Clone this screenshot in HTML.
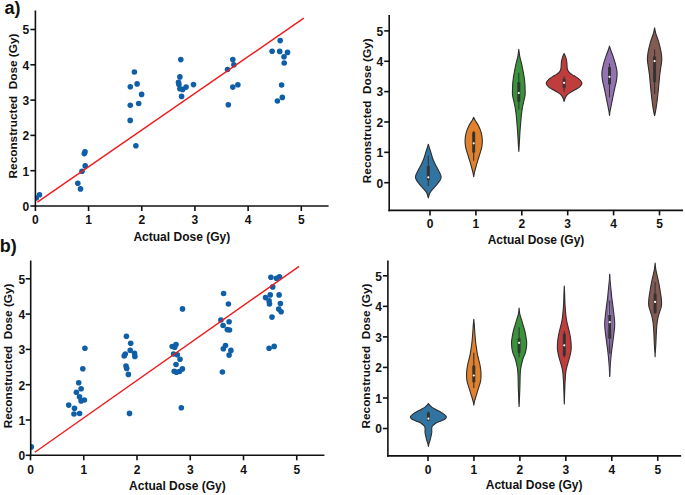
<!DOCTYPE html><html><head><meta charset="utf-8"><style>html,body{margin:0;padding:0;background:#fff;}svg{display:block;}.t{font-family:"Liberation Sans", sans-serif;font-weight:bold;font-size:12px;fill:#111;}.l{font-family:"Liberation Sans", sans-serif;font-weight:bold;font-size:12px;fill:#111;}.p{font-family:"Liberation Sans", sans-serif;font-size:18px;fill:#111;}</style></head><body>
<svg width="685" height="495" viewBox="0 0 685 495">
<rect width="685" height="495" fill="#fff"/>
<defs><clipPath id="ca"><rect x="35.6" y="0" width="300" height="206"/></clipPath><clipPath id="cb"><rect x="30.9" y="250" width="300" height="205"/></clipPath></defs>
<text x="4.6" y="13.6" class="p" style="font-weight:bold" transform="scale(1,1)">a)</text>
<text x="-0.2" y="252.4" class="p" style="font-weight:bold">b)</text>
<g clip-path="url(#ca)">
<circle cx="36.3" cy="198" r="2.8" fill="#0f5fa8"/>
<circle cx="39.5" cy="194.8" r="2.8" fill="#0f5fa8"/>
<circle cx="77.8" cy="183.2" r="2.8" fill="#0f5fa8"/>
<circle cx="80.5" cy="188.9" r="2.8" fill="#0f5fa8"/>
<circle cx="82" cy="171.2" r="2.8" fill="#0f5fa8"/>
<circle cx="85.2" cy="165.9" r="2.8" fill="#0f5fa8"/>
<circle cx="85" cy="151.9" r="2.8" fill="#0f5fa8"/>
<circle cx="84.3" cy="153.6" r="2.8" fill="#0f5fa8"/>
<circle cx="134.4" cy="72" r="2.8" fill="#0f5fa8"/>
<circle cx="137.1" cy="83.9" r="2.8" fill="#0f5fa8"/>
<circle cx="130.3" cy="86.8" r="2.8" fill="#0f5fa8"/>
<circle cx="141.6" cy="94.4" r="2.8" fill="#0f5fa8"/>
<circle cx="130.3" cy="105.2" r="2.8" fill="#0f5fa8"/>
<circle cx="138.7" cy="103.5" r="2.8" fill="#0f5fa8"/>
<circle cx="130.2" cy="120.4" r="2.8" fill="#0f5fa8"/>
<circle cx="135.9" cy="145.8" r="2.8" fill="#0f5fa8"/>
<circle cx="180.8" cy="59.6" r="2.8" fill="#0f5fa8"/>
<circle cx="179.9" cy="76.9" r="2.8" fill="#0f5fa8"/>
<circle cx="178.5" cy="82.2" r="2.8" fill="#0f5fa8"/>
<circle cx="178.9" cy="84.5" r="2.8" fill="#0f5fa8"/>
<circle cx="179.9" cy="88.8" r="2.8" fill="#0f5fa8"/>
<circle cx="182.7" cy="89.4" r="2.8" fill="#0f5fa8"/>
<circle cx="186.1" cy="87.1" r="2.8" fill="#0f5fa8"/>
<circle cx="193.5" cy="84.6" r="2.8" fill="#0f5fa8"/>
<circle cx="181.6" cy="96.4" r="2.8" fill="#0f5fa8"/>
<circle cx="232.8" cy="59.6" r="2.8" fill="#0f5fa8"/>
<circle cx="233.9" cy="64.7" r="2.8" fill="#0f5fa8"/>
<circle cx="227.5" cy="69.5" r="2.8" fill="#0f5fa8"/>
<circle cx="232.8" cy="87.1" r="2.8" fill="#0f5fa8"/>
<circle cx="237.9" cy="84.8" r="2.8" fill="#0f5fa8"/>
<circle cx="228.3" cy="104.8" r="2.8" fill="#0f5fa8"/>
<circle cx="280.2" cy="40.6" r="2.8" fill="#0f5fa8"/>
<circle cx="272.1" cy="51.3" r="2.8" fill="#0f5fa8"/>
<circle cx="279.7" cy="51.4" r="2.8" fill="#0f5fa8"/>
<circle cx="287.5" cy="52.4" r="2.8" fill="#0f5fa8"/>
<circle cx="284" cy="56.8" r="2.8" fill="#0f5fa8"/>
<circle cx="284.2" cy="63" r="2.8" fill="#0f5fa8"/>
<circle cx="281.6" cy="85" r="2.8" fill="#0f5fa8"/>
<circle cx="282.3" cy="97.4" r="2.8" fill="#0f5fa8"/>
<circle cx="277.4" cy="101" r="2.8" fill="#0f5fa8"/>
</g>
<line x1="37.4" y1="202.2" x2="303.8" y2="18.2" stroke="#f01a1c" stroke-width="1.4"/>
<line x1="35.4" y1="10.5" x2="35.4" y2="206.8" stroke="#111" stroke-width="1.6"/>
<line x1="34.6" y1="206" x2="328.6" y2="206" stroke="#111" stroke-width="1.6"/>
<line x1="30.4" y1="206" x2="35.4" y2="206" stroke="#111" stroke-width="1.6"/>
<text x="29.1" y="210.8" text-anchor="end" class="t">0</text>
<line x1="30.4" y1="170.7" x2="35.4" y2="170.7" stroke="#111" stroke-width="1.6"/>
<text x="29.1" y="175.5" text-anchor="end" class="t">1</text>
<line x1="30.4" y1="135.4" x2="35.4" y2="135.4" stroke="#111" stroke-width="1.6"/>
<text x="29.1" y="140.2" text-anchor="end" class="t">2</text>
<line x1="30.4" y1="100.1" x2="35.4" y2="100.1" stroke="#111" stroke-width="1.6"/>
<text x="29.1" y="104.9" text-anchor="end" class="t">3</text>
<line x1="30.4" y1="64.8" x2="35.4" y2="64.8" stroke="#111" stroke-width="1.6"/>
<text x="29.1" y="69.6" text-anchor="end" class="t">4</text>
<line x1="30.4" y1="29.5" x2="35.4" y2="29.5" stroke="#111" stroke-width="1.6"/>
<text x="29.1" y="34.3" text-anchor="end" class="t">5</text>
<line x1="35.4" y1="206" x2="35.4" y2="211" stroke="#111" stroke-width="1.6"/>
<text x="35.4" y="224.1" text-anchor="middle" class="t">0</text>
<line x1="88.58" y1="206" x2="88.58" y2="211" stroke="#111" stroke-width="1.6"/>
<text x="88.58" y="224.1" text-anchor="middle" class="t">1</text>
<line x1="141.76" y1="206" x2="141.76" y2="211" stroke="#111" stroke-width="1.6"/>
<text x="141.76" y="224.1" text-anchor="middle" class="t">2</text>
<line x1="194.94" y1="206" x2="194.94" y2="211" stroke="#111" stroke-width="1.6"/>
<text x="194.94" y="224.1" text-anchor="middle" class="t">3</text>
<line x1="248.12" y1="206" x2="248.12" y2="211" stroke="#111" stroke-width="1.6"/>
<text x="248.12" y="224.1" text-anchor="middle" class="t">4</text>
<line x1="301.3" y1="206" x2="301.3" y2="211" stroke="#111" stroke-width="1.6"/>
<text x="301.3" y="224.1" text-anchor="middle" class="t">5</text>
<text x="181.8" y="240.7" text-anchor="middle" class="l" style="font-size:12px">Actual Dose (Gy)</text>
<text transform="translate(17,106) rotate(-90)" x="0" y="0" text-anchor="middle" class="l" style="font-size:11.8px;white-space:pre" xml:space="preserve">Reconstructed  Dose (Gy)</text>
<g clip-path="url(#cb)">
<circle cx="31.3" cy="446.9" r="2.8" fill="#0f5fa8"/>
<circle cx="78.7" cy="382.7" r="2.8" fill="#0f5fa8"/>
<circle cx="81.1" cy="388.7" r="2.8" fill="#0f5fa8"/>
<circle cx="76.4" cy="392.2" r="2.8" fill="#0f5fa8"/>
<circle cx="79.5" cy="396.7" r="2.8" fill="#0f5fa8"/>
<circle cx="81.1" cy="400.9" r="2.8" fill="#0f5fa8"/>
<circle cx="84.4" cy="400" r="2.8" fill="#0f5fa8"/>
<circle cx="68.7" cy="405.1" r="2.8" fill="#0f5fa8"/>
<circle cx="74.5" cy="408.2" r="2.8" fill="#0f5fa8"/>
<circle cx="74" cy="414" r="2.8" fill="#0f5fa8"/>
<circle cx="79.6" cy="413.5" r="2.8" fill="#0f5fa8"/>
<circle cx="84.9" cy="348.2" r="2.8" fill="#0f5fa8"/>
<circle cx="126.4" cy="336.2" r="2.8" fill="#0f5fa8"/>
<circle cx="130.7" cy="343.3" r="2.8" fill="#0f5fa8"/>
<circle cx="130.2" cy="350.2" r="2.8" fill="#0f5fa8"/>
<circle cx="125.3" cy="354" r="2.8" fill="#0f5fa8"/>
<circle cx="124.2" cy="356" r="2.8" fill="#0f5fa8"/>
<circle cx="134.5" cy="353.3" r="2.8" fill="#0f5fa8"/>
<circle cx="134.9" cy="356.4" r="2.8" fill="#0f5fa8"/>
<circle cx="126" cy="366" r="2.8" fill="#0f5fa8"/>
<circle cx="126.7" cy="368.4" r="2.8" fill="#0f5fa8"/>
<circle cx="128.4" cy="374.4" r="2.8" fill="#0f5fa8"/>
<circle cx="129.5" cy="413.4" r="2.8" fill="#0f5fa8"/>
<circle cx="82.8" cy="368.8" r="2.8" fill="#0f5fa8"/>
<circle cx="176" cy="344.5" r="2.8" fill="#0f5fa8"/>
<circle cx="172.2" cy="346.5" r="2.8" fill="#0f5fa8"/>
<circle cx="174.7" cy="347.3" r="2.8" fill="#0f5fa8"/>
<circle cx="173.6" cy="354" r="2.8" fill="#0f5fa8"/>
<circle cx="177.3" cy="354.7" r="2.8" fill="#0f5fa8"/>
<circle cx="180" cy="359.3" r="2.8" fill="#0f5fa8"/>
<circle cx="176" cy="364.5" r="2.8" fill="#0f5fa8"/>
<circle cx="174.2" cy="371.3" r="2.8" fill="#0f5fa8"/>
<circle cx="176.4" cy="372.2" r="2.8" fill="#0f5fa8"/>
<circle cx="179.5" cy="371.5" r="2.8" fill="#0f5fa8"/>
<circle cx="182.4" cy="368.9" r="2.8" fill="#0f5fa8"/>
<circle cx="181.3" cy="407.8" r="2.8" fill="#0f5fa8"/>
<circle cx="182.5" cy="308.9" r="2.8" fill="#0f5fa8"/>
<circle cx="223.6" cy="293.5" r="2.8" fill="#0f5fa8"/>
<circle cx="228.4" cy="304" r="2.8" fill="#0f5fa8"/>
<circle cx="220.9" cy="320" r="2.8" fill="#0f5fa8"/>
<circle cx="229.1" cy="321.8" r="2.8" fill="#0f5fa8"/>
<circle cx="223.1" cy="325.5" r="2.8" fill="#0f5fa8"/>
<circle cx="227.3" cy="329.6" r="2.8" fill="#0f5fa8"/>
<circle cx="229.5" cy="330" r="2.8" fill="#0f5fa8"/>
<circle cx="225.5" cy="345.5" r="2.8" fill="#0f5fa8"/>
<circle cx="223.3" cy="348.7" r="2.8" fill="#0f5fa8"/>
<circle cx="230.9" cy="350.4" r="2.8" fill="#0f5fa8"/>
<circle cx="229.1" cy="355.1" r="2.8" fill="#0f5fa8"/>
<circle cx="222.4" cy="372" r="2.8" fill="#0f5fa8"/>
<circle cx="270.9" cy="277.3" r="2.8" fill="#0f5fa8"/>
<circle cx="276.4" cy="278.2" r="2.8" fill="#0f5fa8"/>
<circle cx="279.5" cy="276.7" r="2.8" fill="#0f5fa8"/>
<circle cx="272.7" cy="286.9" r="2.8" fill="#0f5fa8"/>
<circle cx="270.2" cy="294.9" r="2.8" fill="#0f5fa8"/>
<circle cx="265.5" cy="297.6" r="2.8" fill="#0f5fa8"/>
<circle cx="279.1" cy="294.9" r="2.8" fill="#0f5fa8"/>
<circle cx="269.1" cy="300.9" r="2.8" fill="#0f5fa8"/>
<circle cx="269.5" cy="304" r="2.8" fill="#0f5fa8"/>
<circle cx="280.4" cy="303.6" r="2.8" fill="#0f5fa8"/>
<circle cx="278.7" cy="309.1" r="2.8" fill="#0f5fa8"/>
<circle cx="281.1" cy="311.8" r="2.8" fill="#0f5fa8"/>
<circle cx="272" cy="317.1" r="2.8" fill="#0f5fa8"/>
<circle cx="274.2" cy="346.4" r="2.8" fill="#0f5fa8"/>
<circle cx="269.1" cy="348.2" r="2.8" fill="#0f5fa8"/>
</g>
<line x1="34.9" y1="452.2" x2="299.1" y2="266.4" stroke="#f01a1c" stroke-width="1.4"/>
<line x1="30.7" y1="260.5" x2="30.7" y2="456.1" stroke="#111" stroke-width="1.6"/>
<line x1="29.9" y1="455.3" x2="324.4" y2="455.3" stroke="#111" stroke-width="1.6"/>
<line x1="25.7" y1="455.3" x2="30.7" y2="455.3" stroke="#111" stroke-width="1.6"/>
<text x="25.1" y="460.1" text-anchor="end" class="t">0</text>
<line x1="25.7" y1="420" x2="30.7" y2="420" stroke="#111" stroke-width="1.6"/>
<text x="25.1" y="424.8" text-anchor="end" class="t">1</text>
<line x1="25.7" y1="384.7" x2="30.7" y2="384.7" stroke="#111" stroke-width="1.6"/>
<text x="25.1" y="389.5" text-anchor="end" class="t">2</text>
<line x1="25.7" y1="349.4" x2="30.7" y2="349.4" stroke="#111" stroke-width="1.6"/>
<text x="25.1" y="354.2" text-anchor="end" class="t">3</text>
<line x1="25.7" y1="314.1" x2="30.7" y2="314.1" stroke="#111" stroke-width="1.6"/>
<text x="25.1" y="318.9" text-anchor="end" class="t">4</text>
<line x1="25.7" y1="278.8" x2="30.7" y2="278.8" stroke="#111" stroke-width="1.6"/>
<text x="25.1" y="283.6" text-anchor="end" class="t">5</text>
<line x1="30.5" y1="455.3" x2="30.5" y2="460.3" stroke="#111" stroke-width="1.6"/>
<text x="30.5" y="473.5" text-anchor="middle" class="t">0</text>
<line x1="83.75" y1="455.3" x2="83.75" y2="460.3" stroke="#111" stroke-width="1.6"/>
<text x="83.75" y="473.5" text-anchor="middle" class="t">1</text>
<line x1="137" y1="455.3" x2="137" y2="460.3" stroke="#111" stroke-width="1.6"/>
<text x="137" y="473.5" text-anchor="middle" class="t">2</text>
<line x1="190.25" y1="455.3" x2="190.25" y2="460.3" stroke="#111" stroke-width="1.6"/>
<text x="190.25" y="473.5" text-anchor="middle" class="t">3</text>
<line x1="243.5" y1="455.3" x2="243.5" y2="460.3" stroke="#111" stroke-width="1.6"/>
<text x="243.5" y="473.5" text-anchor="middle" class="t">4</text>
<line x1="296.75" y1="455.3" x2="296.75" y2="460.3" stroke="#111" stroke-width="1.6"/>
<text x="296.75" y="473.5" text-anchor="middle" class="t">5</text>
<text x="177.4" y="490.3" text-anchor="middle" class="l" style="font-size:12px">Actual Dose (Gy)</text>
<text transform="translate(12.4,355.9) rotate(-90)" x="0" y="0" text-anchor="middle" class="l" style="font-size:11.8px;white-space:pre" xml:space="preserve">Reconstructed  Dose (Gy)</text>
<line x1="389.2" y1="14.9" x2="389.2" y2="211.2" stroke="#111" stroke-width="1.6"/>
<line x1="388.4" y1="210.4" x2="683" y2="210.4" stroke="#111" stroke-width="1.6"/>
<line x1="384.2" y1="182.7" x2="389.2" y2="182.7" stroke="#111" stroke-width="1.6"/>
<text x="383.3" y="187.5" text-anchor="end" class="t">0</text>
<line x1="384.2" y1="152.34" x2="389.2" y2="152.34" stroke="#111" stroke-width="1.6"/>
<text x="383.3" y="157.14" text-anchor="end" class="t">1</text>
<line x1="384.2" y1="121.98" x2="389.2" y2="121.98" stroke="#111" stroke-width="1.6"/>
<text x="383.3" y="126.78" text-anchor="end" class="t">2</text>
<line x1="384.2" y1="91.62" x2="389.2" y2="91.62" stroke="#111" stroke-width="1.6"/>
<text x="383.3" y="96.42" text-anchor="end" class="t">3</text>
<line x1="384.2" y1="61.26" x2="389.2" y2="61.26" stroke="#111" stroke-width="1.6"/>
<text x="383.3" y="66.06" text-anchor="end" class="t">4</text>
<line x1="384.2" y1="30.9" x2="389.2" y2="30.9" stroke="#111" stroke-width="1.6"/>
<text x="383.3" y="35.7" text-anchor="end" class="t">5</text>
<line x1="430" y1="210.4" x2="430" y2="215.4" stroke="#111" stroke-width="1.6"/>
<text x="430" y="228.2" text-anchor="middle" class="t">0</text>
<line x1="475.9" y1="210.4" x2="475.9" y2="215.4" stroke="#111" stroke-width="1.6"/>
<text x="475.9" y="228.2" text-anchor="middle" class="t">1</text>
<line x1="521.8" y1="210.4" x2="521.8" y2="215.4" stroke="#111" stroke-width="1.6"/>
<text x="521.8" y="228.2" text-anchor="middle" class="t">2</text>
<line x1="567.7" y1="210.4" x2="567.7" y2="215.4" stroke="#111" stroke-width="1.6"/>
<text x="567.7" y="228.2" text-anchor="middle" class="t">3</text>
<line x1="613.6" y1="210.4" x2="613.6" y2="215.4" stroke="#111" stroke-width="1.6"/>
<text x="613.6" y="228.2" text-anchor="middle" class="t">4</text>
<line x1="659.5" y1="210.4" x2="659.5" y2="215.4" stroke="#111" stroke-width="1.6"/>
<text x="659.5" y="228.2" text-anchor="middle" class="t">5</text>
<text x="536" y="244.3" text-anchor="middle" class="l" style="font-size:12px">Actual Dose (Gy)</text>
<text transform="translate(371.2,110.75) rotate(-90)" x="0" y="0" text-anchor="middle" class="l" style="font-size:11.8px;white-space:pre" xml:space="preserve">Reconstructed  Dose (Gy)</text>
<path d="M428.3,144.2 C428.45,144.72 428.78,145.98 429.2,147.3 C429.62,148.62 430.23,150.28 430.8,152.1 C431.37,153.92 431.87,156.18 432.6,158.2 C433.33,160.22 434.23,162.18 435.2,164.2 C436.17,166.22 437.42,168.27 438.4,170.3 C439.38,172.33 440.8,174.78 441.1,176.4 C441.4,178.02 440.95,178.6 440.2,180 C439.45,181.4 437.92,183.18 436.6,184.8 C435.28,186.42 433.45,188.28 432.3,189.7 C431.15,191.12 430.37,191.93 429.7,193.3 C429.03,194.67 428.53,197.13 428.3,197.9 C428.07,197.13 427.57,194.67 426.9,193.3 C426.23,191.93 425.45,191.12 424.3,189.7 C423.15,188.28 421.32,186.42 420,184.8 C418.68,183.18 417.15,181.4 416.4,180 C415.65,178.6 415.2,178.02 415.5,176.4 C415.8,174.78 417.22,172.33 418.2,170.3 C419.18,168.27 420.43,166.22 421.4,164.2 C422.37,162.18 423.27,160.22 424,158.2 C424.73,156.18 425.23,153.92 425.8,152.1 C426.37,150.28 426.98,148.62 427.4,147.3 C427.82,145.98 428.15,144.72 428.3,144.2Z" fill="#3274a1" stroke="#2e2e2e" stroke-width="1.1" stroke-linejoin="round"/>
<line x1="428.3" y1="155.8" x2="428.3" y2="186.1" stroke="#333" stroke-width="1.1"/>
<rect x="426.8" y="166.1" width="3" height="13.9" fill="#333"/>
<circle cx="428.3" cy="177.3" r="1.1" fill="#fff"/>
<path d="M473.7,117.2 C473.93,117.7 474.3,118.78 475.1,120.2 C475.9,121.62 477.48,123.63 478.5,125.7 C479.52,127.77 480.57,130.3 481.2,132.6 C481.83,134.9 482.18,137.22 482.3,139.5 C482.42,141.78 482.27,144.02 481.9,146.3 C481.53,148.58 480.77,150.9 480.1,153.2 C479.43,155.5 478.6,157.8 477.9,160.1 C477.2,162.4 476.47,164.95 475.9,167 C475.33,169.05 474.87,170.8 474.5,172.4 C474.13,174 473.83,175.9 473.7,176.6 C473.57,175.9 473.27,174 472.9,172.4 C472.53,170.8 472.07,169.05 471.5,167 C470.93,164.95 470.2,162.4 469.5,160.1 C468.8,157.8 467.97,155.5 467.3,153.2 C466.63,150.9 465.87,148.58 465.5,146.3 C465.13,144.02 464.98,141.78 465.1,139.5 C465.22,137.22 465.57,134.9 466.2,132.6 C466.83,130.3 467.88,127.77 468.9,125.7 C469.92,123.63 471.5,121.62 472.3,120.2 C473.1,118.78 473.47,117.7 473.7,117.2Z" fill="#e1812c" stroke="#2e2e2e" stroke-width="1.1" stroke-linejoin="round"/>
<line x1="473.7" y1="131" x2="473.7" y2="160.8" stroke="#333" stroke-width="1.1"/>
<rect x="472.2" y="132.3" width="3" height="20.2" fill="#333"/>
<circle cx="473.7" cy="143.3" r="1.1" fill="#fff"/>
<path d="M518.8,49.4 C518.95,50.52 519.32,54.05 519.7,56.1 C520.08,58.15 520.67,59.85 521.1,61.7 C521.53,63.55 521.92,65.35 522.3,67.2 C522.68,69.05 523.07,70.95 523.4,72.8 C523.73,74.65 524.05,76.45 524.3,78.3 C524.55,80.15 524.77,82.05 524.9,83.9 C525.03,85.75 525.07,87.55 525.1,89.4 C525.13,91.25 525.32,93.05 525.1,95 C524.88,96.95 524.23,99.08 523.8,101.1 C523.37,103.12 522.87,105.08 522.5,107.1 C522.13,109.12 521.85,111.18 521.6,113.2 C521.35,115.22 521.18,117.18 521,119.2 C520.82,121.22 520.67,123.27 520.5,125.3 C520.33,127.33 520.14,129.38 520,131.4 C519.86,133.42 519.77,135.38 519.65,137.4 C519.53,139.42 519.44,141.17 519.3,143.5 C519.16,145.83 518.88,150.08 518.8,151.4 C518.72,150.08 518.44,145.83 518.3,143.5 C518.16,141.17 518.07,139.42 517.95,137.4 C517.83,135.38 517.74,133.42 517.6,131.4 C517.46,129.38 517.27,127.33 517.1,125.3 C516.93,123.27 516.78,121.22 516.6,119.2 C516.42,117.18 516.25,115.22 516,113.2 C515.75,111.18 515.47,109.12 515.1,107.1 C514.73,105.08 514.23,103.12 513.8,101.1 C513.37,99.08 512.72,96.95 512.5,95 C512.28,93.05 512.47,91.25 512.5,89.4 C512.53,87.55 512.57,85.75 512.7,83.9 C512.83,82.05 513.05,80.15 513.3,78.3 C513.55,76.45 513.87,74.65 514.2,72.8 C514.53,70.95 514.92,69.05 515.3,67.2 C515.68,65.35 516.07,63.55 516.5,61.7 C516.93,59.85 517.52,58.15 517.9,56.1 C518.28,54.05 518.65,50.52 518.8,49.4Z" fill="#3a923a" stroke="#2e2e2e" stroke-width="1.1" stroke-linejoin="round"/>
<line x1="518.8" y1="72.8" x2="518.8" y2="109.5" stroke="#333" stroke-width="1.1"/>
<rect x="517.3" y="82.2" width="3" height="19.5" fill="#333"/>
<circle cx="518.8" cy="93" r="1.1" fill="#fff"/>
<path d="M564.1,53.5 C564.3,53.93 564.95,55.17 565.3,56.1 C565.65,57.03 565.95,58.1 566.2,59.1 C566.45,60.1 566.67,61.08 566.8,62.1 C566.93,63.12 566.93,64.18 567,65.2 C567.07,66.22 567.05,67.3 567.2,68.2 C567.35,69.1 567.53,69.87 567.9,70.6 C568.27,71.33 568.7,71.93 569.4,72.6 C570.1,73.27 571.08,73.93 572.1,74.6 C573.12,75.27 574.28,75.82 575.5,76.6 C576.72,77.38 578.32,78.23 579.4,79.3 C580.48,80.37 581.9,81.78 582,83 C582.1,84.22 581.07,85.52 580,86.6 C578.93,87.68 577.18,88.53 575.6,89.5 C574.02,90.47 571.98,91.42 570.5,92.4 C569.02,93.38 567.6,94.42 566.7,95.4 C565.8,96.38 565.53,97.3 565.1,98.3 C564.67,99.3 564.27,100.88 564.1,101.4 C563.93,100.88 563.53,99.3 563.1,98.3 C562.67,97.3 562.4,96.38 561.5,95.4 C560.6,94.42 559.18,93.38 557.7,92.4 C556.22,91.42 554.18,90.47 552.6,89.5 C551.02,88.53 549.27,87.68 548.2,86.6 C547.13,85.52 546.1,84.22 546.2,83 C546.3,81.78 547.72,80.37 548.8,79.3 C549.88,78.23 551.48,77.38 552.7,76.6 C553.92,75.82 555.08,75.27 556.1,74.6 C557.12,73.93 558.1,73.27 558.8,72.6 C559.5,71.93 559.93,71.33 560.3,70.6 C560.67,69.87 560.85,69.1 561,68.2 C561.15,67.3 561.13,66.22 561.2,65.2 C561.27,64.18 561.27,63.12 561.4,62.1 C561.53,61.08 561.75,60.1 562,59.1 C562.25,58.1 562.55,57.03 562.9,56.1 C563.25,55.17 563.9,53.93 564.1,53.5Z" fill="#c03d3e" stroke="#2e2e2e" stroke-width="1.1" stroke-linejoin="round"/>
<line x1="564.1" y1="76.4" x2="564.1" y2="91.7" stroke="#333" stroke-width="1.1"/>
<rect x="562.6" y="78.9" width="3" height="8.8" fill="#333"/>
<circle cx="564.1" cy="82.8" r="1.1" fill="#fff"/>
<path d="M609.5,46.1 C609.68,46.7 610.02,48.03 610.6,49.7 C611.18,51.37 612.18,53.68 613,56.1 C613.82,58.52 614.82,61.5 615.5,64.2 C616.18,66.9 616.93,69.62 617.1,72.3 C617.27,74.98 616.9,77.62 616.5,80.3 C616.1,82.98 615.28,85.7 614.7,88.4 C614.12,91.1 613.55,93.82 613,96.5 C612.45,99.18 611.88,102.08 611.4,104.5 C610.92,106.92 610.42,109.17 610.1,111 C609.78,112.83 609.6,114.75 609.5,115.5 C609.4,114.75 609.22,112.83 608.9,111 C608.58,109.17 608.08,106.92 607.6,104.5 C607.12,102.08 606.55,99.18 606,96.5 C605.45,93.82 604.88,91.1 604.3,88.4 C603.72,85.7 602.9,82.98 602.5,80.3 C602.1,77.62 601.73,74.98 601.9,72.3 C602.07,69.62 602.82,66.9 603.5,64.2 C604.18,61.5 605.18,58.52 606,56.1 C606.82,53.68 607.82,51.37 608.4,49.7 C608.98,48.03 609.32,46.7 609.5,46.1Z" fill="#9372b2" stroke="#2e2e2e" stroke-width="1.1" stroke-linejoin="round"/>
<line x1="609.5" y1="63.4" x2="609.5" y2="97.3" stroke="#333" stroke-width="1.1"/>
<rect x="608" y="67.1" width="3" height="17.3" fill="#333"/>
<circle cx="609.5" cy="76.8" r="1.1" fill="#fff"/>
<path d="M654.6,27.9 C654.82,28.88 655.23,31.5 655.9,33.8 C656.57,36.1 657.75,38.73 658.6,41.7 C659.45,44.67 660.47,48.63 661,51.6 C661.53,54.57 661.83,56.87 661.8,59.5 C661.77,62.13 661.15,64.77 660.8,67.4 C660.45,70.03 660.03,72.35 659.7,75.3 C659.37,78.25 659.12,81.82 658.8,85.1 C658.48,88.38 658.17,91.72 657.8,95 C657.43,98.28 657.02,101.85 656.6,104.8 C656.18,107.75 655.63,110.88 655.3,112.7 C654.97,114.52 654.72,115.2 654.6,115.7 C654.48,115.2 654.23,114.52 653.9,112.7 C653.57,110.88 653.02,107.75 652.6,104.8 C652.18,101.85 651.77,98.28 651.4,95 C651.03,91.72 650.72,88.38 650.4,85.1 C650.08,81.82 649.83,78.25 649.5,75.3 C649.17,72.35 648.75,70.03 648.4,67.4 C648.05,64.77 647.43,62.13 647.4,59.5 C647.37,56.87 647.67,54.57 648.2,51.6 C648.73,48.63 649.75,44.67 650.6,41.7 C651.45,38.73 652.63,36.1 653.3,33.8 C653.97,31.5 654.38,28.88 654.6,27.9Z" fill="#845b53" stroke="#2e2e2e" stroke-width="1.1" stroke-linejoin="round"/>
<line x1="654.6" y1="49.6" x2="654.6" y2="94" stroke="#333" stroke-width="1.1"/>
<rect x="653.1" y="56.5" width="3" height="25.7" fill="#333"/>
<circle cx="654.6" cy="61.1" r="1.1" fill="#fff"/>
<line x1="387.9" y1="260.5" x2="387.9" y2="456.7" stroke="#111" stroke-width="1.6"/>
<line x1="387.1" y1="455.9" x2="681.1" y2="455.9" stroke="#111" stroke-width="1.6"/>
<line x1="382.9" y1="428.5" x2="387.9" y2="428.5" stroke="#111" stroke-width="1.6"/>
<text x="382" y="433.3" text-anchor="end" class="t">0</text>
<line x1="382.9" y1="397.96" x2="387.9" y2="397.96" stroke="#111" stroke-width="1.6"/>
<text x="382" y="402.76" text-anchor="end" class="t">1</text>
<line x1="382.9" y1="367.42" x2="387.9" y2="367.42" stroke="#111" stroke-width="1.6"/>
<text x="382" y="372.22" text-anchor="end" class="t">2</text>
<line x1="382.9" y1="336.88" x2="387.9" y2="336.88" stroke="#111" stroke-width="1.6"/>
<text x="382" y="341.68" text-anchor="end" class="t">3</text>
<line x1="382.9" y1="306.34" x2="387.9" y2="306.34" stroke="#111" stroke-width="1.6"/>
<text x="382" y="311.14" text-anchor="end" class="t">4</text>
<line x1="382.9" y1="275.8" x2="387.9" y2="275.8" stroke="#111" stroke-width="1.6"/>
<text x="382" y="280.6" text-anchor="end" class="t">5</text>
<line x1="428" y1="455.9" x2="428" y2="460.9" stroke="#111" stroke-width="1.6"/>
<text x="428" y="473.8" text-anchor="middle" class="t">0</text>
<line x1="473.95" y1="455.9" x2="473.95" y2="460.9" stroke="#111" stroke-width="1.6"/>
<text x="473.95" y="473.8" text-anchor="middle" class="t">1</text>
<line x1="519.9" y1="455.9" x2="519.9" y2="460.9" stroke="#111" stroke-width="1.6"/>
<text x="519.9" y="473.8" text-anchor="middle" class="t">2</text>
<line x1="565.85" y1="455.9" x2="565.85" y2="460.9" stroke="#111" stroke-width="1.6"/>
<text x="565.85" y="473.8" text-anchor="middle" class="t">3</text>
<line x1="611.8" y1="455.9" x2="611.8" y2="460.9" stroke="#111" stroke-width="1.6"/>
<text x="611.8" y="473.8" text-anchor="middle" class="t">4</text>
<line x1="657.75" y1="455.9" x2="657.75" y2="460.9" stroke="#111" stroke-width="1.6"/>
<text x="657.75" y="473.8" text-anchor="middle" class="t">5</text>
<text x="534.1" y="489.3" text-anchor="middle" class="l" style="font-size:12px">Actual Dose (Gy)</text>
<text transform="translate(369.5,356.05) rotate(-90)" x="0" y="0" text-anchor="middle" class="l" style="font-size:11.8px;white-space:pre" xml:space="preserve">Reconstructed  Dose (Gy)</text>
<path d="M428.4,403.5 C428.62,403.77 429.15,404.5 429.7,405.1 C430.25,405.7 430.82,406.43 431.7,407.1 C432.58,407.77 433.78,408.43 435,409.1 C436.22,409.77 437.75,410.43 439,411.1 C440.25,411.77 441.4,412.33 442.5,413.1 C443.6,413.87 444.95,415.02 445.6,415.7 C446.25,416.38 446.53,416.62 446.4,417.2 C446.27,417.78 445.82,418.53 444.8,419.2 C443.78,419.87 441.82,420.53 440.3,421.2 C438.78,421.87 437.03,422.35 435.7,423.2 C434.37,424.05 432.97,425.28 432.3,426.3 C431.63,427.32 431.78,428.3 431.7,429.3 C431.62,430.3 431.92,431.12 431.8,432.3 C431.68,433.48 431.3,435.05 431,436.4 C430.7,437.75 430.33,439.23 430,440.4 C429.67,441.57 429.27,442.38 429,443.4 C428.73,444.42 428.5,445.98 428.4,446.5 C428.3,445.98 428.07,444.42 427.8,443.4 C427.53,442.38 427.13,441.57 426.8,440.4 C426.47,439.23 426.1,437.75 425.8,436.4 C425.5,435.05 425.12,433.48 425,432.3 C424.88,431.12 425.18,430.3 425.1,429.3 C425.02,428.3 425.17,427.32 424.5,426.3 C423.83,425.28 422.43,424.05 421.1,423.2 C419.77,422.35 418.02,421.87 416.5,421.2 C414.98,420.53 413.02,419.87 412,419.2 C410.98,418.53 410.53,417.78 410.4,417.2 C410.27,416.62 410.55,416.38 411.2,415.7 C411.85,415.02 413.2,413.87 414.3,413.1 C415.4,412.33 416.55,411.77 417.8,411.1 C419.05,410.43 420.58,409.77 421.8,409.1 C423.02,408.43 424.22,407.77 425.1,407.1 C425.98,406.43 426.55,405.7 427.1,405.1 C427.65,404.5 428.18,403.77 428.4,403.5Z" fill="#3274a1" stroke="#2e2e2e" stroke-width="1.1" stroke-linejoin="round"/>
<line x1="428.4" y1="411.5" x2="428.4" y2="420.7" stroke="#333" stroke-width="1.1"/>
<rect x="426.9" y="412.6" width="3" height="8.1" fill="#333"/>
<circle cx="428.4" cy="418.7" r="1.1" fill="#fff"/>
<path d="M473.8,319.2 C473.9,320.35 474.24,324.02 474.4,326.1 C474.56,328.18 474.62,329.85 474.75,331.7 C474.88,333.55 475.04,335.35 475.2,337.2 C475.36,339.05 475.48,340.95 475.7,342.8 C475.92,344.65 476.23,346.45 476.5,348.3 C476.77,350.15 477,352.05 477.35,353.9 C477.7,355.75 478.16,357.55 478.6,359.4 C479.04,361.25 479.6,362.8 480,365 C480.4,367.2 480.88,370.05 481,372.6 C481.12,375.15 481.1,377.75 480.7,380.3 C480.3,382.85 479.35,385.35 478.6,387.9 C477.85,390.45 476.88,393.35 476.2,395.6 C475.52,397.85 474.9,399.8 474.5,401.4 C474.1,403 473.92,404.57 473.8,405.2 C473.68,404.57 473.5,403 473.1,401.4 C472.7,399.8 472.08,397.85 471.4,395.6 C470.72,393.35 469.75,390.45 469,387.9 C468.25,385.35 467.3,382.85 466.9,380.3 C466.5,377.75 466.48,375.15 466.6,372.6 C466.72,370.05 467.2,367.2 467.6,365 C468,362.8 468.56,361.25 469,359.4 C469.44,357.55 469.9,355.75 470.25,353.9 C470.6,352.05 470.83,350.15 471.1,348.3 C471.38,346.45 471.68,344.65 471.9,342.8 C472.12,340.95 472.24,339.05 472.4,337.2 C472.56,335.35 472.72,333.55 472.85,331.7 C472.98,329.85 473.04,328.18 473.2,326.1 C473.36,324.02 473.7,320.35 473.8,319.2Z" fill="#e1812c" stroke="#2e2e2e" stroke-width="1.1" stroke-linejoin="round"/>
<line x1="473.8" y1="352.8" x2="473.8" y2="387.9" stroke="#333" stroke-width="1.1"/>
<rect x="472.3" y="365.6" width="3" height="16.6" fill="#333"/>
<circle cx="473.8" cy="375.5" r="1.1" fill="#fff"/>
<path d="M519.1,308.1 C519.21,309.07 519.36,312.02 519.75,313.9 C520.14,315.78 520.9,317.55 521.45,319.4 C522,321.25 522.5,323.13 523.05,325 C523.6,326.87 524.28,328.75 524.75,330.6 C525.22,332.45 525.53,334.25 525.85,336.1 C526.17,337.95 526.55,339.85 526.65,341.7 C526.75,343.55 526.67,345.35 526.45,347.2 C526.23,349.05 525.91,350.95 525.35,352.8 C524.79,354.65 523.68,356.58 523.1,358.3 C522.52,360.02 522.25,361.37 521.85,363.1 C521.45,364.83 520.98,366.85 520.7,368.7 C520.43,370.55 520.31,372.35 520.2,374.2 C520.09,376.05 520.09,377.95 520.05,379.8 C520.01,381.65 520,383.45 519.95,385.3 C519.9,387.15 519.82,389.05 519.75,390.9 C519.68,392.75 519.62,394.55 519.55,396.4 C519.48,398.25 519.43,400.33 519.35,402 C519.27,403.67 519.14,405.67 519.1,406.4 C519.06,405.67 518.93,403.67 518.85,402 C518.77,400.33 518.72,398.25 518.65,396.4 C518.58,394.55 518.52,392.75 518.45,390.9 C518.38,389.05 518.3,387.15 518.25,385.3 C518.2,383.45 518.19,381.65 518.15,379.8 C518.11,377.95 518.11,376.05 518,374.2 C517.89,372.35 517.77,370.55 517.5,368.7 C517.23,366.85 516.75,364.83 516.35,363.1 C515.95,361.37 515.68,360.02 515.1,358.3 C514.52,356.58 513.41,354.65 512.85,352.8 C512.29,350.95 511.97,349.05 511.75,347.2 C511.53,345.35 511.45,343.55 511.55,341.7 C511.65,339.85 512.03,337.95 512.35,336.1 C512.67,334.25 512.98,332.45 513.45,330.6 C513.92,328.75 514.6,326.87 515.15,325 C515.7,323.13 516.2,321.25 516.75,319.4 C517.3,317.55 518.06,315.78 518.45,313.9 C518.84,312.02 518.99,309.07 519.1,308.1Z" fill="#3a923a" stroke="#2e2e2e" stroke-width="1.1" stroke-linejoin="round"/>
<line x1="519.1" y1="327.2" x2="519.1" y2="357.2" stroke="#333" stroke-width="1.1"/>
<rect x="517.6" y="338.3" width="3" height="14.5" fill="#333"/>
<circle cx="519.1" cy="342.8" r="1.1" fill="#fff"/>
<path d="M564.3,286.1 C564.36,287.43 564.57,291.83 564.65,294.1 C564.73,296.37 564.73,297.85 564.8,299.7 C564.87,301.55 564.93,303.35 565.05,305.2 C565.17,307.05 565.34,308.95 565.5,310.8 C565.66,312.65 565.77,314.45 566,316.3 C566.23,318.15 566.53,320.05 566.9,321.9 C567.27,323.75 567.75,325.55 568.2,327.4 C568.65,329.25 569.17,330.9 569.6,333 C570.03,335.1 570.53,337.83 570.8,340 C571.07,342.17 571.15,344.33 571.2,346 C571.25,347.67 571.3,348.4 571.1,350 C570.9,351.6 570.43,353.75 570,355.6 C569.57,357.45 569.02,359.25 568.5,361.1 C567.98,362.95 567.35,364.85 566.9,366.7 C566.45,368.55 566.06,370.35 565.8,372.2 C565.54,374.05 565.48,375.95 565.35,377.8 C565.22,379.65 565.09,381.45 565,383.3 C564.91,385.15 564.87,387.05 564.8,388.9 C564.73,390.75 564.66,392.55 564.6,394.4 C564.54,396.25 564.5,398.42 564.45,400 C564.4,401.58 564.32,403.25 564.3,403.9 C564.27,403.25 564.2,401.58 564.15,400 C564.1,398.42 564.06,396.25 564,394.4 C563.94,392.55 563.87,390.75 563.8,388.9 C563.73,387.05 563.69,385.15 563.6,383.3 C563.51,381.45 563.38,379.65 563.25,377.8 C563.12,375.95 563.06,374.05 562.8,372.2 C562.54,370.35 562.15,368.55 561.7,366.7 C561.25,364.85 560.62,362.95 560.1,361.1 C559.58,359.25 559.03,357.45 558.6,355.6 C558.17,353.75 557.7,351.6 557.5,350 C557.3,348.4 557.35,347.67 557.4,346 C557.45,344.33 557.53,342.17 557.8,340 C558.07,337.83 558.57,335.1 559,333 C559.43,330.9 559.95,329.25 560.4,327.4 C560.85,325.55 561.33,323.75 561.7,321.9 C562.07,320.05 562.37,318.15 562.6,316.3 C562.83,314.45 562.94,312.65 563.1,310.8 C563.26,308.95 563.43,307.05 563.55,305.2 C563.67,303.35 563.73,301.55 563.8,299.7 C563.87,297.85 563.87,296.37 563.95,294.1 C564.03,291.83 564.24,287.43 564.3,286.1Z" fill="#c03d3e" stroke="#2e2e2e" stroke-width="1.1" stroke-linejoin="round"/>
<line x1="564.3" y1="331" x2="564.3" y2="357.5" stroke="#333" stroke-width="1.1"/>
<rect x="562.8" y="333.8" width="3" height="22" fill="#333"/>
<circle cx="564.3" cy="345.3" r="1.1" fill="#fff"/>
<path d="M609.7,274.2 C609.77,275.35 609.93,279.02 610.1,281.1 C610.27,283.18 610.51,284.85 610.7,286.7 C610.89,288.55 611.07,290.35 611.25,292.2 C611.43,294.05 611.58,295.95 611.8,297.8 C612.02,299.65 612.31,301.45 612.55,303.3 C612.79,305.15 613.02,307.05 613.25,308.9 C613.48,310.75 613.69,312.55 613.9,314.4 C614.11,316.25 614.37,318.4 614.5,320 C614.63,321.6 614.69,322.73 614.7,324 C614.71,325.27 614.68,326.08 614.55,327.6 C614.43,329.12 614.17,331.25 613.95,333.1 C613.73,334.95 613.48,336.85 613.25,338.7 C613.02,340.55 612.79,342.35 612.55,344.2 C612.31,346.05 612.03,347.95 611.8,349.8 C611.57,351.65 611.35,353.45 611.15,355.3 C610.95,357.15 610.77,359.05 610.6,360.9 C610.43,362.75 610.27,364.55 610.15,366.4 C610.03,368.25 609.98,370.33 609.9,372 C609.83,373.67 609.73,375.67 609.7,376.4 C609.67,375.67 609.58,373.67 609.5,372 C609.42,370.33 609.37,368.25 609.25,366.4 C609.13,364.55 608.97,362.75 608.8,360.9 C608.63,359.05 608.45,357.15 608.25,355.3 C608.05,353.45 607.83,351.65 607.6,349.8 C607.37,347.95 607.09,346.05 606.85,344.2 C606.61,342.35 606.38,340.55 606.15,338.7 C605.92,336.85 605.67,334.95 605.45,333.1 C605.23,331.25 604.98,329.12 604.85,327.6 C604.73,326.08 604.69,325.27 604.7,324 C604.71,322.73 604.77,321.6 604.9,320 C605.03,318.4 605.29,316.25 605.5,314.4 C605.71,312.55 605.93,310.75 606.15,308.9 C606.38,307.05 606.61,305.15 606.85,303.3 C607.09,301.45 607.38,299.65 607.6,297.8 C607.82,295.95 607.97,294.05 608.15,292.2 C608.33,290.35 608.51,288.55 608.7,286.7 C608.89,284.85 609.13,283.18 609.3,281.1 C609.47,279.02 609.63,275.35 609.7,274.2Z" fill="#9372b2" stroke="#2e2e2e" stroke-width="1.1" stroke-linejoin="round"/>
<path d="M609.7,274.2 C609.73,275.35 609.82,279.02 609.9,281.1 C609.98,283.18 610.1,284.85 610.2,286.7 C610.3,288.55 610.38,290.35 610.48,292.2 C610.57,294.05 610.64,295.95 610.75,297.8 C610.86,299.65 611,301.45 611.12,303.3 C611.25,305.15 611.36,307.05 611.48,308.9 C611.59,310.75 611.7,312.55 611.8,314.4 C611.9,316.25 612.03,318.4 612.1,320 C612.17,321.6 612.2,322.73 612.2,324 C612.2,325.27 612.19,326.08 612.12,327.6 C612.06,329.12 611.93,331.25 611.83,333.1 C611.72,334.95 611.59,336.85 611.48,338.7 C611.36,340.55 611.25,342.35 611.12,344.2 C611,346.05 610.87,347.95 610.75,349.8 C610.63,351.65 610.53,353.45 610.43,355.3 C610.33,357.15 610.23,359.05 610.15,360.9 C610.07,362.75 609.98,364.55 609.93,366.4 C609.87,368.25 609.84,370.33 609.8,372 C609.76,373.67 609.72,375.67 609.7,376.4 C609.68,375.67 609.64,373.67 609.6,372 C609.56,370.33 609.53,368.25 609.48,366.4 C609.42,364.55 609.33,362.75 609.25,360.9 C609.17,359.05 609.08,357.15 608.98,355.3 C608.88,353.45 608.77,351.65 608.65,349.8 C608.53,347.95 608.4,346.05 608.28,344.2 C608.15,342.35 608.04,340.55 607.93,338.7 C607.81,336.85 607.68,334.95 607.58,333.1 C607.47,331.25 607.34,329.12 607.28,327.6 C607.21,326.08 607.2,325.27 607.2,324 C607.2,322.73 607.23,321.6 607.3,320 C607.37,318.4 607.5,316.25 607.6,314.4 C607.7,312.55 607.81,310.75 607.93,308.9 C608.04,307.05 608.15,305.15 608.28,303.3 C608.4,301.45 608.54,299.65 608.65,297.8 C608.76,295.95 608.83,294.05 608.93,292.2 C609.02,290.35 609.1,288.55 609.2,286.7 C609.3,284.85 609.42,283.18 609.5,281.1 C609.58,279.02 609.67,275.35 609.7,274.2Z" fill="#a88ccb" stroke="#3b2c4c" stroke-opacity="0.5" stroke-width="0.7"/>
<line x1="609.7" y1="300.4" x2="609.7" y2="353.4" stroke="#333" stroke-width="1.1"/>
<rect x="608.2" y="315" width="3" height="23.7" fill="#333"/>
<circle cx="609.7" cy="322.2" r="1.1" fill="#fff"/>
<path d="M655.1,263 C655.21,264.02 655.44,267.15 655.75,269.1 C656.06,271.05 656.54,272.85 656.95,274.7 C657.36,276.55 657.81,278.35 658.2,280.2 C658.59,282.05 658.97,283.95 659.3,285.8 C659.63,287.65 659.9,289.45 660.2,291.3 C660.5,293.15 660.89,295.37 661.1,296.9 C661.31,298.43 661.37,299.32 661.45,300.5 C661.53,301.68 661.66,302.83 661.6,304 C661.54,305.17 661.35,306.4 661.1,307.5 C660.85,308.6 660.43,309.6 660.1,310.6 C659.77,311.6 659.39,312.58 659.1,313.5 C658.81,314.42 658.66,314.73 658.35,316.1 C658.04,317.47 657.52,319.85 657.25,321.7 C656.98,323.55 656.85,325.35 656.7,327.2 C656.55,329.05 656.45,330.95 656.35,332.8 C656.25,334.65 656.18,336.45 656.1,338.3 C656.02,340.15 655.95,342.05 655.85,343.9 C655.75,345.75 655.61,347.73 655.5,349.4 C655.39,351.07 655.27,352.68 655.2,353.9 C655.13,355.12 655.12,356.23 655.1,356.7 C655.08,356.23 655.07,355.12 655,353.9 C654.93,352.68 654.81,351.07 654.7,349.4 C654.59,347.73 654.45,345.75 654.35,343.9 C654.25,342.05 654.18,340.15 654.1,338.3 C654.02,336.45 653.95,334.65 653.85,332.8 C653.75,330.95 653.65,329.05 653.5,327.2 C653.35,325.35 653.23,323.55 652.95,321.7 C652.68,319.85 652.16,317.47 651.85,316.1 C651.54,314.73 651.39,314.42 651.1,313.5 C650.81,312.58 650.43,311.6 650.1,310.6 C649.77,309.6 649.35,308.6 649.1,307.5 C648.85,306.4 648.66,305.17 648.6,304 C648.54,302.83 648.67,301.68 648.75,300.5 C648.83,299.32 648.89,298.43 649.1,296.9 C649.31,295.37 649.7,293.15 650,291.3 C650.3,289.45 650.57,287.65 650.9,285.8 C651.23,283.95 651.61,282.05 652,280.2 C652.39,278.35 652.84,276.55 653.25,274.7 C653.66,272.85 654.14,271.05 654.45,269.1 C654.76,267.15 654.99,264.02 655.1,263Z" fill="#845b53" stroke="#2e2e2e" stroke-width="1.1" stroke-linejoin="round"/>
<line x1="655.1" y1="281.9" x2="655.1" y2="314" stroke="#333" stroke-width="1.1"/>
<rect x="653.6" y="293.6" width="3" height="19.2" fill="#333"/>
<circle cx="655.1" cy="301.9" r="1.1" fill="#fff"/>
</svg></body></html>
